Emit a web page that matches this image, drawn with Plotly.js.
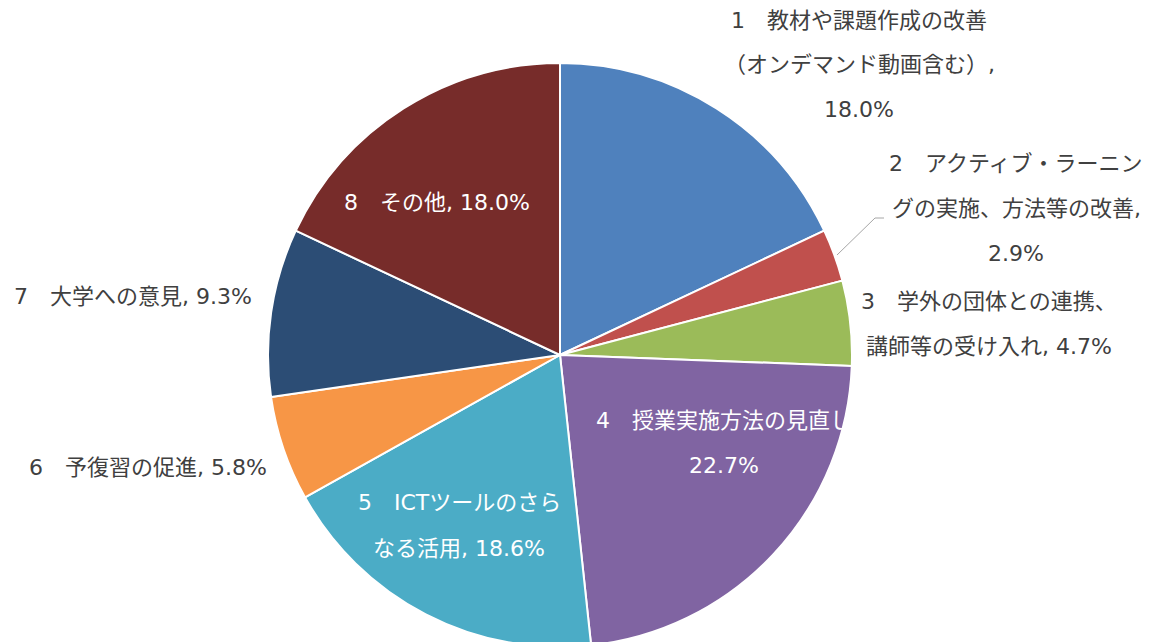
<!DOCTYPE html>
<html>
<head>
<meta charset="utf-8">
<script src="https://cdn.plot.ly/plotly-3.0.1.min.js"></script>
<style>
html,body{margin:0;padding:0;background:#fff;overflow:hidden;}
#chart{width:1156px;height:647px;}
</style>
</head>
<body>
<div id="chart"></div>
<script>
// ---- data ----
const categories = [
  "1　教材や課題作成の改善（オンデマンド動画含む）",
  "2　アクティブ・ラーニングの実施、方法等の改善",
  "3　学外の団体との連携、講師等の受け入れ",
  "4　授業実施方法の見直し",
  "5　ICTツールのさらなる活用",
  "6　予復習の促進",
  "7　大学への意見",
  "8　その他"
];
const values = [18.0, 2.9, 4.7, 22.7, 18.6, 5.8, 9.3, 18.0];
const colors = ["#4F81BD", "#C0504D", "#9BBB59", "#8064A2", "#4BACC6", "#F79646", "#2C4D75", "#772C2A"];
// label text lines as wrapped in the original (percentage appended from values)
const labelLines = [
  ["1　教材や課題作成の改善", "（オンデマンド動画含む）,", "{p}"],
  ["2　アクティブ・ラーニン", "グの実施、方法等の改善,", "{p}"],
  ["3　学外の団体との連携、", "講師等の受け入れ, {p}"],
  ["4　授業実施方法の見直し", "{p}"],
  ["5　ICTツールのさら", "なる活用, {p}"],
  ["6　予復習の促進, {p}"],
  ["7　大学への意見, {p}"],
  ["8　その他, {p}"]
];

// ---- layout helpers ----
const W = 1156, H = 647;
const R = 292, CX = 560, CY = 355;
// label anchor positions (pixels: center x, first line y) and line spacing
const labelPos = [
  [859, 20], [1016, 163], [989, 301], [724, 420],
  [459, 503], [148, 467], [133, 296], [437, 202]
];
const lineGap = 45;
const insideLabel = [false, false, false, true, true, false, false, true];
const FONT = "DejaVu Sans, Noto Sans CJK JP, sans-serif";

const annotations = [];
labelLines.forEach((lines, i) => {
  const pct = values[i].toFixed(1) + "%";
  lines.forEach((ln, j) => {
    annotations.push({
      text: ln.replace("{p}", pct),
      xref: "paper", yref: "paper",
      x: labelPos[i][0] / W,
      y: 1 - (labelPos[i][1] + j * lineGap) / H,
      xanchor: "center", yanchor: "middle",
      showarrow: false,
      font: {family: FONT, size: 22,
             color: insideLabel[i] ? "#FFFFFF" : "#404040"}
    });
  });
});

const trace = {
  type: "pie",
  labels: categories,
  values: values,
  sort: false,
  direction: "clockwise",
  rotation: 0,
  marker: {colors: colors, line: {color: "#FFFFFF", width: 2}},
  textinfo: "none",
  hoverinfo: "none",
  showlegend: false,
  domain: {
    x: [(CX - R) / W, (CX + R) / W],
    y: [1 - (CY + R) / H, 1 - (CY - R) / H]
  }
};

const layout = {
  width: W, height: H,
  margin: {l: 0, r: 0, t: 0, b: 0},
  paper_bgcolor: "#FFFFFF",
  showlegend: false,
  annotations: annotations,
  shapes: [{
    type: "path", xref: "paper", yref: "paper",
    path: `M ${837/W} ${1-255/H} L ${875/W} ${1-218/H} L ${884/W} ${1-218/H}`,
    line: {color: "#A6A6A6", width: 1}
  }]
};

Plotly.newPlot("chart", [trace], layout, {displayModeBar: false, staticPlot: true});
</script>
</body>
</html>
